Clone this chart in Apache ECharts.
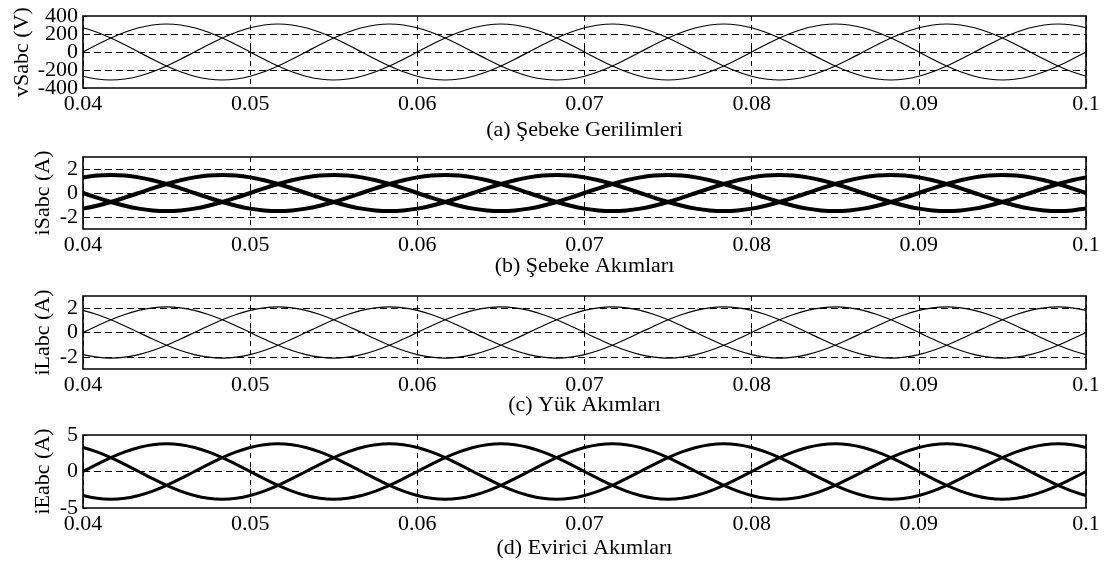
<!DOCTYPE html>
<html>
<head>
<meta charset="utf-8">
<script src="https://cdn.jsdelivr.net/npm/echarts@6/dist/echarts.min.js"></script>
<style>
  html, body { margin: 0; padding: 0; background: #fff; }
  #chart { width: 1105px; height: 561px; }
</style>
</head>
<body>
<div id="chart"></div>
<script>
// Sample times (s), every 15 electrical degrees at 50 Hz
const time = [
  0.04, 0.040833, 0.041667, 0.0425, 0.043333, 0.044167, 0.045, 0.045833, 0.046667, 0.0475, 0.048333, 0.049167,
  0.05, 0.050833, 0.051667, 0.0525, 0.053333, 0.054167, 0.055, 0.055833, 0.056667, 0.0575, 0.058333, 0.059167,
  0.06, 0.060833, 0.061667, 0.0625, 0.063333, 0.064167, 0.065, 0.065833, 0.066667, 0.0675, 0.068333, 0.069167,
  0.07, 0.070833, 0.071667, 0.0725, 0.073333, 0.074167, 0.075, 0.075833, 0.076667, 0.0775, 0.078333, 0.079167,
  0.08, 0.080833, 0.081667, 0.0825, 0.083333, 0.084167, 0.085, 0.085833, 0.086667, 0.0875, 0.088333, 0.089167,
  0.09, 0.090833, 0.091667, 0.0925, 0.093333, 0.094167, 0.095, 0.095833, 0.096667, 0.0975, 0.098333, 0.099167,
  0.1];

// (a) grid voltages (V)
const vSa = [
  0, 80, 156, 220, 269, 300, 311, 300, 269, 220, 156, 80, 0, -80, -156, -220, -269, -300, -311, -300, -269, -220, -156, -80,
  0, 80, 156, 220, 269, 300, 311, 300, 269, 220, 156, 80, 0, -80, -156, -220, -269, -300, -311, -300, -269, -220, -156, -80,
  0, 80, 156, 220, 269, 300, 311, 300, 269, 220, 156, 80, 0, -80, -156, -220, -269, -300, -311, -300, -269, -220, -156, -80,
  0];
const vSb = [
  -269, -300, -311, -300, -269, -220, -156, -80, 0, 80, 156, 220, 269, 300, 311, 300, 269, 220, 156, 80, 0, -80, -156, -220,
  -269, -300, -311, -300, -269, -220, -156, -80, 0, 80, 156, 220, 269, 300, 311, 300, 269, 220, 156, 80, 0, -80, -156, -220,
  -269, -300, -311, -300, -269, -220, -156, -80, 0, 80, 156, 220, 269, 300, 311, 300, 269, 220, 156, 80, 0, -80, -156, -220,
  -269];
const vSc = [
  269, 220, 156, 80, 0, -80, -156, -220, -269, -300, -311, -300, -269, -220, -156, -80, 0, 80, 156, 220, 269, 300, 311, 300,
  269, 220, 156, 80, 0, -80, -156, -220, -269, -300, -311, -300, -269, -220, -156, -80, 0, 80, 156, 220, 269, 300, 311, 300,
  269, 220, 156, 80, 0, -80, -156, -220, -269, -300, -311, -300, -269, -220, -156, -80, 0, 80, 156, 220, 269, 300, 311, 300,
  269];

// (b) grid currents (A)
const iSa = [
  0, -0.39, -0.75, -1.06, -1.3, -1.45, -1.5, -1.45, -1.3, -1.06, -0.75, -0.39, 0, 0.39, 0.75, 1.06, 1.3, 1.45, 1.5, 1.45, 1.3, 1.06, 0.75, 0.39,
  0, -0.39, -0.75, -1.06, -1.3, -1.45, -1.5, -1.45, -1.3, -1.06, -0.75, -0.39, 0, 0.39, 0.75, 1.06, 1.3, 1.45, 1.5, 1.45, 1.3, 1.06, 0.75, 0.39,
  0, -0.39, -0.75, -1.06, -1.3, -1.45, -1.5, -1.45, -1.3, -1.06, -0.75, -0.39, 0, 0.39, 0.75, 1.06, 1.3, 1.45, 1.5, 1.45, 1.3, 1.06, 0.75, 0.39,
  0];
const iSb = [
  1.3, 1.45, 1.5, 1.45, 1.3, 1.06, 0.75, 0.39, 0, -0.39, -0.75, -1.06, -1.3, -1.45, -1.5, -1.45, -1.3, -1.06, -0.75, -0.39, 0, 0.39, 0.75, 1.06,
  1.3, 1.45, 1.5, 1.45, 1.3, 1.06, 0.75, 0.39, 0, -0.39, -0.75, -1.06, -1.3, -1.45, -1.5, -1.45, -1.3, -1.06, -0.75, -0.39, 0, 0.39, 0.75, 1.06,
  1.3, 1.45, 1.5, 1.45, 1.3, 1.06, 0.75, 0.39, 0, -0.39, -0.75, -1.06, -1.3, -1.45, -1.5, -1.45, -1.3, -1.06, -0.75, -0.39, 0, 0.39, 0.75, 1.06,
  1.3];
const iSc = [
  -1.3, -1.06, -0.75, -0.39, 0, 0.39, 0.75, 1.06, 1.3, 1.45, 1.5, 1.45, 1.3, 1.06, 0.75, 0.39, 0, -0.39, -0.75, -1.06, -1.3, -1.45, -1.5, -1.45,
  -1.3, -1.06, -0.75, -0.39, 0, 0.39, 0.75, 1.06, 1.3, 1.45, 1.5, 1.45, 1.3, 1.06, 0.75, 0.39, 0, -0.39, -0.75, -1.06, -1.3, -1.45, -1.5, -1.45,
  -1.3, -1.06, -0.75, -0.39, 0, 0.39, 0.75, 1.06, 1.3, 1.45, 1.5, 1.45, 1.3, 1.06, 0.75, 0.39, 0, -0.39, -0.75, -1.06, -1.3, -1.45, -1.5, -1.45,
  -1.3];

// (c) load currents (A)
const iLa = [
  0, 0.54, 1.05, 1.48, 1.82, 2.03, 2.1, 2.03, 1.82, 1.48, 1.05, 0.54, 0, -0.54, -1.05, -1.48, -1.82, -2.03, -2.1, -2.03, -1.82, -1.48, -1.05, -0.54,
  0, 0.54, 1.05, 1.48, 1.82, 2.03, 2.1, 2.03, 1.82, 1.48, 1.05, 0.54, 0, -0.54, -1.05, -1.48, -1.82, -2.03, -2.1, -2.03, -1.82, -1.48, -1.05, -0.54,
  0, 0.54, 1.05, 1.48, 1.82, 2.03, 2.1, 2.03, 1.82, 1.48, 1.05, 0.54, 0, -0.54, -1.05, -1.48, -1.82, -2.03, -2.1, -2.03, -1.82, -1.48, -1.05, -0.54,
  0];
const iLb = [
  -1.82, -2.03, -2.1, -2.03, -1.82, -1.48, -1.05, -0.54, 0, 0.54, 1.05, 1.48, 1.82, 2.03, 2.1, 2.03, 1.82, 1.48, 1.05, 0.54, 0, -0.54, -1.05, -1.48,
  -1.82, -2.03, -2.1, -2.03, -1.82, -1.48, -1.05, -0.54, 0, 0.54, 1.05, 1.48, 1.82, 2.03, 2.1, 2.03, 1.82, 1.48, 1.05, 0.54, 0, -0.54, -1.05, -1.48,
  -1.82, -2.03, -2.1, -2.03, -1.82, -1.48, -1.05, -0.54, 0, 0.54, 1.05, 1.48, 1.82, 2.03, 2.1, 2.03, 1.82, 1.48, 1.05, 0.54, 0, -0.54, -1.05, -1.48,
  -1.82];
const iLc = [
  1.82, 1.48, 1.05, 0.54, 0, -0.54, -1.05, -1.48, -1.82, -2.03, -2.1, -2.03, -1.82, -1.48, -1.05, -0.54, 0, 0.54, 1.05, 1.48, 1.82, 2.03, 2.1, 2.03,
  1.82, 1.48, 1.05, 0.54, 0, -0.54, -1.05, -1.48, -1.82, -2.03, -2.1, -2.03, -1.82, -1.48, -1.05, -0.54, 0, 0.54, 1.05, 1.48, 1.82, 2.03, 2.1, 2.03,
  1.82, 1.48, 1.05, 0.54, 0, -0.54, -1.05, -1.48, -1.82, -2.03, -2.1, -2.03, -1.82, -1.48, -1.05, -0.54, 0, 0.54, 1.05, 1.48, 1.82, 2.03, 2.1, 2.03,
  1.82];

// (d) inverter currents (A)
const iEa = [
  0, 0.98, 1.9, 2.69, 3.29, 3.67, 3.8, 3.67, 3.29, 2.69, 1.9, 0.98, 0, -0.98, -1.9, -2.69, -3.29, -3.67, -3.8, -3.67, -3.29, -2.69, -1.9, -0.98,
  0, 0.98, 1.9, 2.69, 3.29, 3.67, 3.8, 3.67, 3.29, 2.69, 1.9, 0.98, 0, -0.98, -1.9, -2.69, -3.29, -3.67, -3.8, -3.67, -3.29, -2.69, -1.9, -0.98,
  0, 0.98, 1.9, 2.69, 3.29, 3.67, 3.8, 3.67, 3.29, 2.69, 1.9, 0.98, 0, -0.98, -1.9, -2.69, -3.29, -3.67, -3.8, -3.67, -3.29, -2.69, -1.9, -0.98,
  0];
const iEb = [
  -3.29, -3.67, -3.8, -3.67, -3.29, -2.69, -1.9, -0.98, 0, 0.98, 1.9, 2.69, 3.29, 3.67, 3.8, 3.67, 3.29, 2.69, 1.9, 0.98, 0, -0.98, -1.9, -2.69,
  -3.29, -3.67, -3.8, -3.67, -3.29, -2.69, -1.9, -0.98, 0, 0.98, 1.9, 2.69, 3.29, 3.67, 3.8, 3.67, 3.29, 2.69, 1.9, 0.98, 0, -0.98, -1.9, -2.69,
  -3.29, -3.67, -3.8, -3.67, -3.29, -2.69, -1.9, -0.98, 0, 0.98, 1.9, 2.69, 3.29, 3.67, 3.8, 3.67, 3.29, 2.69, 1.9, 0.98, 0, -0.98, -1.9, -2.69,
  -3.29];
const iEc = [
  3.29, 2.69, 1.9, 0.98, 0, -0.98, -1.9, -2.69, -3.29, -3.67, -3.8, -3.67, -3.29, -2.69, -1.9, -0.98, 0, 0.98, 1.9, 2.69, 3.29, 3.67, 3.8, 3.67,
  3.29, 2.69, 1.9, 0.98, 0, -0.98, -1.9, -2.69, -3.29, -3.67, -3.8, -3.67, -3.29, -2.69, -1.9, -0.98, 0, 0.98, 1.9, 2.69, 3.29, 3.67, 3.8, 3.67,
  3.29, 2.69, 1.9, 0.98, 0, -0.98, -1.9, -2.69, -3.29, -3.67, -3.8, -3.67, -3.29, -2.69, -1.9, -0.98, 0, 0.98, 1.9, 2.69, 3.29, 3.67, 3.8, 3.67,
  3.29];

// Axis ticks and dashed reference levels
const yTicks = [[-400, 0, 400], [-2, 0, 2], [-2, 0, 2], [-5, 0, 5]];
const yTicksVoltageInner = [-200, 200];   // drawn on an overlaid axis so the tight labels all stay visible
const yRange = [[-400, 400], [-3, 3], [-3, 3], [-5, 5]];
const yLevels = [[-200, 0, 200], [-2, 0, 2], [-2, 0, 2], [0]];
const yNames = ['vSabc (V)', 'iSabc (A)', 'iLabc (A)', 'iEabc (A)'];
const captions = ['(a) Şebeke Gerilimleri', '(b) Şebeke Akımları',
  '(c) Yük Akımları', '(d) Evirici Akımları'];
const panels = [[vSa, vSb, vSc], [iSa, iSb, iSc], [iLa, iLb, iLc], [iEa, iEb, iEc]];

const FONT = "'Liberation Serif', 'Times New Roman', serif";
const PLOT_LEFT = 83, PLOT_RIGHT = 1086;
const gridTops = [16, 157, 296, 435];
const gridHeights = [72, 72, 73, 73];
const lineWidths = [1.2, 4, 1.2, 3];
const nameX = [22, 43, 43, 43];
const captionY = [130, 266, 405, 548];

const chart = echarts.init(document.getElementById('chart'), null, { renderer: 'canvas' });

function makeYAxis(g, ticks) {
  return {
    type: 'value', gridIndex: g, position: 'left', offset: 0,
    min: yRange[g][0], max: yRange[g][1],
    axisLine: { show: false },
    axisTick: { show: true, inside: true, length: 4, customValues: ticks, lineStyle: { color: '#000' } },
    axisLabel: { color: '#000', fontFamily: FONT, fontSize: 22, margin: 5, customValues: ticks,
      showMinLabel: true, showMaxLabel: true, hideOverlap: false },
    splitLine: { show: false }
  };
}

const grid = [], xAxis = [], yAxis = [], series = [], graphic = [];
panels.forEach((phases, g) => {
  grid.push({
    left: PLOT_LEFT, right: 1105 - PLOT_RIGHT, top: gridTops[g], height: gridHeights[g],
    show: true, borderColor: '#000', borderWidth: 1.6, backgroundColor: 'transparent'
  });
  xAxis.push({
    type: 'value', gridIndex: g, min: 0.04, max: 0.1, interval: 0.01,
    axisLine: { show: false },
    axisTick: { show: true, inside: true, length: 4, lineStyle: { color: '#000' } },
    axisLabel: { color: '#000', fontFamily: FONT, fontSize: 22, margin: 5,
      showMinLabel: true, showMaxLabel: true, hideOverlap: false },
    splitLine: { show: true, lineStyle: { color: '#000', width: 1, type: [5, 4] } }
  });
  yAxis.push(makeYAxis(g, yTicks[g]));
  phases.forEach((vals, p) => {
    const s = {
      type: 'line', xAxisIndex: g, yAxisIndex: g, smooth: 0.4, symbol: 'none',
      lineStyle: { color: '#000', width: lineWidths[g] },
      data: time.map((t, i) => [t, vals[i]]), z: 3
    };
    if (p === 0) {
      s.markLine = {
        silent: true, symbol: 'none', label: { show: false }, animation: false,
        lineStyle: { color: '#000', width: 1, type: [7, 4] },
        data: yLevels[g].map(v => ({ yAxis: v }))
      };
    }
    series.push(s);
  });
  graphic.push({
    type: 'text', x: nameX[g], y: gridTops[g] + gridHeights[g] / 2, rotation: Math.PI / 2,
    style: { text: yNames[g], font: '22px ' + FONT, fill: '#000', align: 'center', verticalAlign: 'middle' }
  });
  graphic.push({
    type: 'text', x: (PLOT_LEFT + PLOT_RIGHT) / 2, y: captionY[g],
    style: { text: captions[g], font: '22px ' + FONT, fill: '#000', align: 'center', verticalAlign: 'middle' }
  });
});
// second left axis on the voltage panel carrying the ±200 labels
yAxis.push(makeYAxis(0, yTicksVoltageInner));

chart.setOption({
  animation: false,
  backgroundColor: '#fff',
  grid, xAxis, yAxis, series, graphic
});
</script>
</body>
</html>
